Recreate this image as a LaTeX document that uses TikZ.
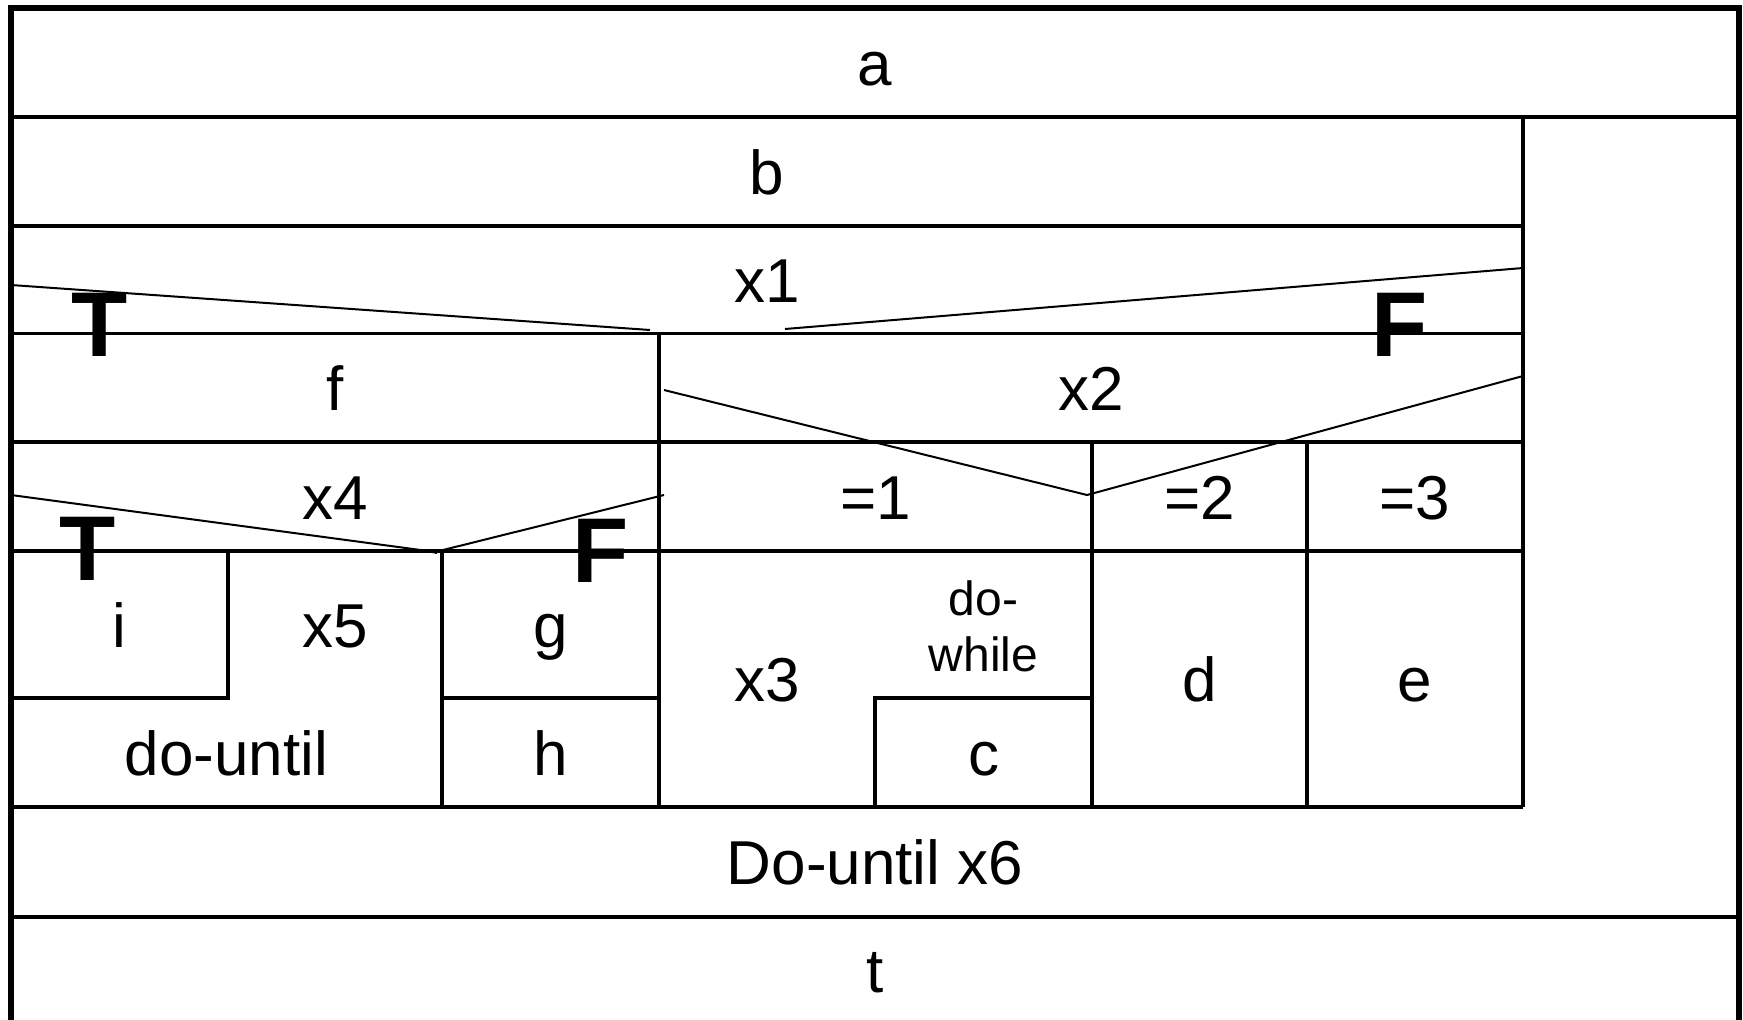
\documentclass[tikz,border=0pt]{standalone}
\usepackage{fontspec}
\setmainfont{Liberation Sans}
\begin{document}
\begin{tikzpicture}[x=1pt,y=-1pt,
  frame/.style={line width=6pt},
  grid/.style={line width=3.2pt},
  diag/.style={line width=2pt},
  lbl/.style={anchor=base, inner sep=0pt, font=\fontsize{62}{70}\selectfont},
  small/.style={anchor=base, inner sep=0pt, font=\fontsize{48}{54}\selectfont},
  tf/.style={anchor=base, inner sep=0pt, font=\fontsize{92}{100}\selectfont\bfseries}]
\useasboundingbox (0,0) rectangle (1743,1020);

% outer frame
\draw[frame] (11,1020) -- (11,8) -- (1739,8) -- (1739,1020);

% horizontal lines
\draw[grid] (11,117) -- (1739,117);
\draw[grid] (11,226) -- (1523,226);
\draw[grid] (11,333.5) -- (1523,333.5);
\draw[grid] (11,442) -- (1523,442);
\draw[grid] (11,551) -- (1523,551);
\draw[grid] (11,807) -- (1523,807);
\draw[grid] (11,917) -- (1739,917);
% inner box right edge
\draw[grid] (1523,117) -- (1523,807);
% verticals
\draw[grid] (659,333.5) -- (659,807);
\draw[grid] (1092,442) -- (1092,807);
\draw[grid] (1307,442) -- (1307,807);
\draw[grid] (442,551) -- (442,807);
% i box
\draw[grid] (228,551) -- (228,698) -- (11,698);
% g / h
\draw[grid] (442,698) -- (659,698);
% c box
\draw[grid] (875,807) -- (875,698) -- (1092,698);

% diagonals x1
\draw[diag] (11,285) -- (650,330);
\draw[diag] (785,329) -- (1523,268);
% diagonals x2
\draw[diag] (664,390) -- (1087,495) -- (1523,376);
% diagonals x4
\draw[diag] (11,495) -- (428,551) -- (437,553);
\draw[diag] (439,551) -- (664,495);

% labels
\node[lbl] (a) at (875,85) {a};
\node[lbl] (b) at (767,194) {b};
\node[lbl] (x1) at (767,302) {x1};
\node[lbl] (f) at (335,410) {f};
\node[lbl] (x2) at (1091,410) {x2};
\node[lbl] (x4) at (335,519) {x4};
\node[lbl] (eq1) at (875.5,519) {=1};
\node[lbl] (eq2) at (1199.5,519) {=2};
\node[lbl] (eq3) at (1415,519) {=3};
\node[lbl] (i) at (119.5,647) {i};
\node[lbl] (x5) at (335,647) {x5};
\node[lbl] (g) at (550.5,647) {g};
\node[lbl] (dountil) at (226.5,775) {do-until};
\node[lbl] (h) at (550.5,775) {h};
\node[lbl] (x3) at (767,701) {x3};
\node[small] (do) at (983.5,615) {do-};
\node[small] (while) at (983.5,671) {while};
\node[lbl] (c) at (983.5,775) {c};
\node[lbl] (d) at (1199.5,701) {d};
\node[lbl] (e) at (1415,701) {e};
\node[lbl] (x6) at (875,884) {Do-until x6};
\node[lbl] (t) at (875,992) {t};

% T / F marks
\node[tf] (T1) at (99.5,356) {T};
\node[tf] (F1) at (1400,356) {F};
\node[tf] (T2) at (88,580) {T};
\node[tf] (F2) at (601,582) {F};
\end{tikzpicture}
\end{document}
